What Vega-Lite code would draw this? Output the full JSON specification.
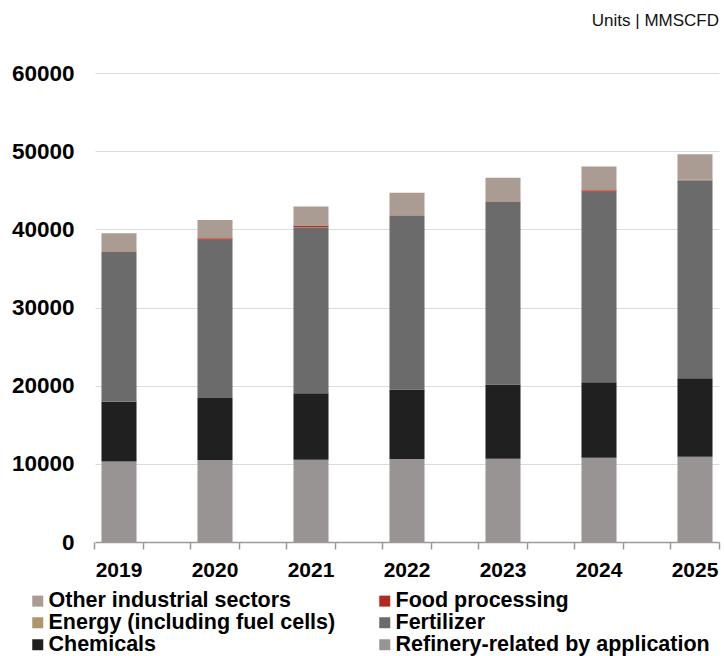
{
  "$schema": "https://vega.github.io/schema/vega-lite/v6.json",
  "autosize": "none",
  "width": 624,
  "height": 469,
  "padding": {"left": 95, "top": 73, "right": 5, "bottom": 114},
  "background": "white",
  "config": {
    "view": {"stroke": null},
    "font": "Liberation Sans"
  },
  "title": {
    "text": "Units | MMSCFD",
    "anchor": "end",
    "frame": "group",
    "fontSize": 17,
    "fontWeight": "normal",
    "font": "Liberation Sans",
    "color": "#111111",
    "offset": 32
  },
  "data": {
    "values": [
      {"year": "2019", "sector": "Refinery-related by application", "value": 10300},
      {"year": "2019", "sector": "Chemicals", "value": 7640},
      {"year": "2019", "sector": "Fertilizer", "value": 19210},
      {"year": "2019", "sector": "Energy (including fuel cells)", "value": 20},
      {"year": "2019", "sector": "Food processing", "value": 30},
      {"year": "2019", "sector": "Other industrial sectors", "value": 2310},
      {"year": "2020", "sector": "Refinery-related by application", "value": 10480},
      {"year": "2020", "sector": "Chemicals", "value": 7930},
      {"year": "2020", "sector": "Fertilizer", "value": 20250},
      {"year": "2020", "sector": "Energy (including fuel cells)", "value": 20},
      {"year": "2020", "sector": "Food processing", "value": 180},
      {"year": "2020", "sector": "Other industrial sectors", "value": 2320},
      {"year": "2021", "sector": "Refinery-related by application", "value": 10520},
      {"year": "2021", "sector": "Chemicals", "value": 8510},
      {"year": "2021", "sector": "Fertilizer", "value": 21250},
      {"year": "2021", "sector": "Energy (including fuel cells)", "value": 20},
      {"year": "2021", "sector": "Food processing", "value": 180},
      {"year": "2021", "sector": "Other industrial sectors", "value": 2440},
      {"year": "2022", "sector": "Refinery-related by application", "value": 10610},
      {"year": "2022", "sector": "Chemicals", "value": 8890},
      {"year": "2022", "sector": "Fertilizer", "value": 22260},
      {"year": "2022", "sector": "Energy (including fuel cells)", "value": 20},
      {"year": "2022", "sector": "Food processing", "value": 30},
      {"year": "2022", "sector": "Other industrial sectors", "value": 2860},
      {"year": "2023", "sector": "Refinery-related by application", "value": 10640},
      {"year": "2023", "sector": "Chemicals", "value": 9500},
      {"year": "2023", "sector": "Fertilizer", "value": 23410},
      {"year": "2023", "sector": "Energy (including fuel cells)", "value": 20},
      {"year": "2023", "sector": "Food processing", "value": 30},
      {"year": "2023", "sector": "Other industrial sectors", "value": 2990},
      {"year": "2024", "sector": "Refinery-related by application", "value": 10780},
      {"year": "2024", "sector": "Chemicals", "value": 9650},
      {"year": "2024", "sector": "Fertilizer", "value": 24370},
      {"year": "2024", "sector": "Energy (including fuel cells)", "value": 20},
      {"year": "2024", "sector": "Food processing", "value": 180},
      {"year": "2024", "sector": "Other industrial sectors", "value": 3030},
      {"year": "2025", "sector": "Refinery-related by application", "value": 10910},
      {"year": "2025", "sector": "Chemicals", "value": 10030},
      {"year": "2025", "sector": "Fertilizer", "value": 25350},
      {"year": "2025", "sector": "Energy (including fuel cells)", "value": 20},
      {"year": "2025", "sector": "Food processing", "value": 30},
      {"year": "2025", "sector": "Other industrial sectors", "value": 3260}
    ]
  },
  "transform": [
    {"calculate": "indexof(['Refinery-related by application', 'Chemicals', 'Fertilizer', 'Energy (including fuel cells)', 'Food processing', 'Other industrial sectors'], datum.sector)", "as": "stackRank"}
  ],
  "encoding": {
    "x": {
      "field": "year",
      "type": "ordinal",
      "scale": {"paddingInner": 0.635, "paddingOuter": 0.0675}
    },
    "y": {
      "field": "value",
      "type": "quantitative",
      "stack": "zero",
      "scale": {"domain": [0, 60000], "nice": false}
    },
    "order": {"field": "stackRank", "type": "quantitative", "sort": "ascending"}
  },
  "layer": [
    {
      "mark": {"type": "bar"},
      "encoding": {
        "x": {
          "field": "year",
          "type": "ordinal",
          "axis": {
            "orient": "bottom",
            "title": null,
            "labelAngle": 0,
            "labelFont": "Liberation Sans",
            "labelFontWeight": "bold",
            "labelFontSize": 21,
            "labelColor": "#000000",
            "labelPadding": 17,
            "ticks": false,
            "domainColor": "#9a9a9a",
            "domainWidth": 1.5
          }
        },
        "y": {
          "field": "value",
          "type": "quantitative",
          "axis": {
            "title": null,
            "values": [0, 10000, 20000, 30000, 40000, 50000, 60000],
            "format": "d",
            "labelFont": "Liberation Sans",
            "labelFontWeight": "bold",
            "labelFontSize": 22.5,
            "labelColor": "#000000",
            "labelPadding": 21,
            "ticks": false,
            "domain": false,
            "grid": true,
            "gridColor": "#dcdcdc",
            "gridWidth": 1.2
          }
        },
        "color": {
          "field": "sector",
          "type": "nominal",
          "scale": {
            "domain": ["Other industrial sectors", "Energy (including fuel cells)", "Chemicals", "Food processing", "Fertilizer", "Refinery-related by application"],
            "range": ["#aa9c93", "#b0946c", "#202020", "#b22a20", "#6b6b6b", "#989493"]
          },
          "legend": {
            "orient": "none",
            "legendX": -68,
            "legendY": 517,
            "padding": 0,
            "title": null,
            "columns": 2,
            "columnPadding": 38,
            "rowPadding": -1,
            "symbolType": "square",
            "symbolSize": 121,
            "symbolStrokeWidth": 0,
            "labelFont": "Liberation Sans",
            "labelFontWeight": "bold",
            "labelFontSize": 21.5,
            "labelColor": "#000000",
            "labelOffset": 0,
            "labelLimit": 400
          }
        }
      }
    },
    {
      "mark": {"type": "bar", "opacity": 0},
      "encoding": {
        "x": {
          "field": "year",
          "type": "ordinal",
          "axis": {
            "orient": "bottom",
            "title": null,
            "labels": false,
            "domain": false,
            "ticks": true,
            "tickColor": "#9a9a9a",
            "tickSize": 7,
            "tickWidth": 1.5,
            "bandPosition": -0.186
          }
        }
      }
    },
    {
      "mark": {"type": "bar", "opacity": 0},
      "encoding": {
        "x": {
          "field": "year",
          "type": "ordinal",
          "axis": {
            "orient": "bottom",
            "title": null,
            "labels": false,
            "domain": false,
            "ticks": true,
            "tickColor": "#9a9a9a",
            "tickSize": 7,
            "tickWidth": 1.5,
            "bandPosition": 1.186
          }
        }
      }
    }
  ],
  "resolve": {"axis": {"x": "independent"}}
}
